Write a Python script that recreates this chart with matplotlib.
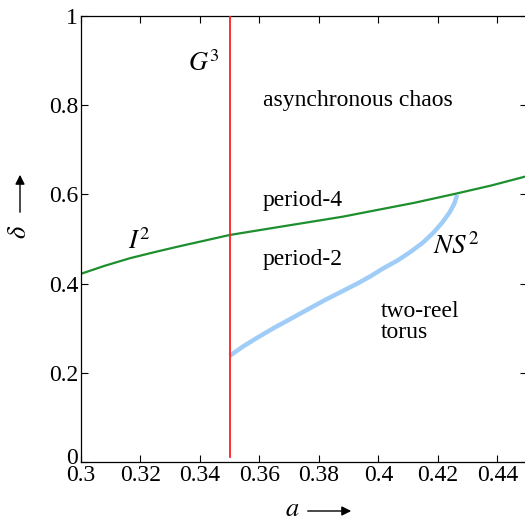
import matplotlib
matplotlib.use("Agg")
import matplotlib.pyplot as plt
from matplotlib.transforms import ScaledTranslation

plt.rcParams['font.family'] = ['Liberation Serif', 'DejaVu Serif']
plt.rcParams['mathtext.fontset'] = 'stix'
plt.rcParams['font.size'] = 17

# Bifurcation boundaries in the (a, delta) parameter plane
g3_a = 0.35
g3_delta = [0.011, 1.0]

i2_a = [0.300, 0.308, 0.3165, 0.325, 0.3333, 0.342, 0.350, 0.362, 0.375,
        0.388, 0.3988, 0.412, 0.4263, 0.438, 0.450]
i2_delta = [0.422, 0.440, 0.457, 0.471, 0.484, 0.497, 0.509, 0.522, 0.536,
            0.550, 0.564, 0.581, 0.602, 0.620, 0.641]

ns2_a = [0.350, 0.3545, 0.3596, 0.3650, 0.3708, 0.3765, 0.382, 0.3876,
         0.3932, 0.3975, 0.4016, 0.4065, 0.4110, 0.4150, 0.4185, 0.4215,
         0.4240, 0.4256, 0.4265]
ns2_delta = [0.238, 0.259, 0.280, 0.301, 0.322, 0.343, 0.363, 0.382,
             0.401, 0.417, 0.434, 0.452, 0.472, 0.492, 0.514, 0.537,
             0.560, 0.580, 0.599]

xticks = [0.30, 0.32, 0.34, 0.36, 0.38, 0.40, 0.42, 0.44]
xticklabels = ['0.3', '0.32', '0.34', '0.36', '0.38', '0.4', '0.42', '0.44']
yticks = [0.0, 0.2, 0.4, 0.6, 0.8, 1.0]
yticklabels = ['0', '0.2', '0.4', '0.6', '0.8', '1']

W, H = 525, 526
fig = plt.figure(figsize=(W / 100, H / 100), dpi=100)
ax = fig.add_axes([81 / W, (H - 462) / H, 446 / W, 446 / H])

ax.plot([g3_a, g3_a], g3_delta, color='#ff2020', lw=1.3, zorder=3)
ax.plot(i2_a, i2_delta, color='#1e8f2e', lw=1.6, zorder=2)
ax.plot(ns2_a, ns2_delta, color='#9fcdf7', lw=3.2, solid_capstyle='butt',
        solid_joinstyle='round', zorder=1)

ax.set_xlim(0.3, 0.45)
ax.set_ylim(0, 1)
ax.set_xticks(xticks)
ax.set_xticklabels(xticklabels)
ax.set_yticks(yticks)
ax.set_yticklabels(yticklabels)
ax.tick_params(direction='in', length=5, width=0.8, pad=2,
               top=True, right=True, labelsize=17)
for s in ax.spines.values():
    s.set_linewidth(0.9)

# lift the origin label of the delta axis a little above the a-axis labels
zero_lbl = ax.get_yticklabels()[0]
zero_lbl.set_transform(zero_lbl.get_transform() +
                       ScaledTranslation(0, 4 / 72, fig.dpi_scale_trans))

# Region and curve labels
ax.text(0.3413, 0.895, r'$G^3$', ha='center', va='center', fontsize=19)
ax.text(0.3158, 0.478, r'$I^2$', ha='left', va='baseline', fontsize=19)
ax.text(0.4183, 0.466, r'$NS^2$', ha='left', va='baseline', fontsize=19.5)
ax.text(0.3611, 0.798, 'asynchronous chaos', ha='left', va='baseline')
ax.text(0.3611, 0.574, 'period-4', ha='left', va='baseline')
ax.text(0.3611, 0.442, 'period-2', ha='left', va='baseline')
ax.text(0.4008, 0.325, 'two-reel', ha='left', va='baseline')
ax.text(0.4008, 0.278, 'torus', ha='left', va='baseline')

# Axis labels with arrows
fig.text(292 / W, 1 - 510 / H, r'$a$', ha='center', va='center', fontsize=19)
fig.add_artist(matplotlib.patches.FancyArrowPatch(
    (305, H - 511), (354, H - 511), transform=None,
    arrowstyle='-|>', mutation_scale=14, lw=1.0, color='black'))
fig.text(20 / W, 1 - 232 / H, r'$\delta$', ha='center', va='center',
         rotation=90, fontsize=19)
fig.add_artist(matplotlib.patches.FancyArrowPatch(
    (20, H - 215), (20, H - 172), transform=None,
    arrowstyle='-|>', mutation_scale=14, lw=1.0, color='black'))

fig.savefig('out.png', dpi=100)
